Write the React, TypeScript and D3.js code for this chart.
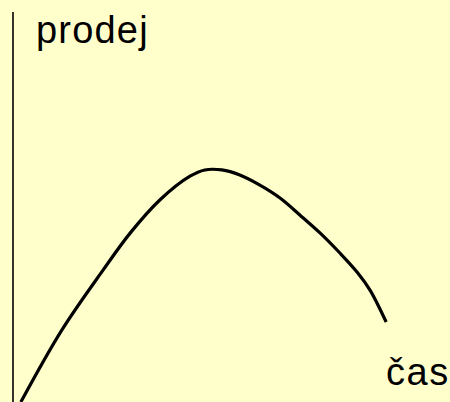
import React from "react";
import * as d3 from "d3";

const time: number[] = [1.8, 11.2, 20.6, 26.8, 33.6, 40.5, 43.9, 47.8, 51.9, 56.5, 61.1, 65.7, 70.3, 74.8, 78.9, 81.7, 85.4];
const sales: number[] = [0, 18.5, 33.8, 43.3, 51.8, 57.9, 59.5, 59.5, 58.2, 55.6, 52.3, 47.9, 43.3, 38.2, 33.1, 28.7, 20.5];
const yLabel = "prodej";
const xLabel = "čas";

const W = 450;
const H = 402;

export default function App() {
  const x = d3.scaleLinear().domain([0, 100]).range([13, W]);
  const y = d3.scaleLinear().domain([0, 100]).range([H, 12]);
  const pts: [number, number][] = time.map((t, i) => [t, sales[i]]);
  const line = d3
    .line<[number, number]>()
    .x((d) => x(d[0]))
    .y((d) => y(d[1]))
    .curve(d3.curveCatmullRom.alpha(0.5));

  return (
    <svg
      width={W}
      height={H}
      style={{ position: "fixed", left: 0, top: 0, display: "block" }}
    >
      <rect x={0} y={0} width={W} height={H} fill="#FFFFCC" />
      <line x1={x(0)} x2={x(0)} y1={y(100)} y2={y(0)} stroke="#000" strokeWidth={1.6} />
      <path d={line(pts) || ""} fill="none" stroke="#000" strokeWidth={3.2} strokeLinejoin="round" />
      <text x={36} y={43} fontFamily="'Liberation Sans', Arial, sans-serif" fontSize={38} letterSpacing={1.2} fill="#000">
        {yLabel}
      </text>
      <text x={386} y={385} fontFamily="'Liberation Sans', Arial, sans-serif" fontSize={38} letterSpacing={1.5} fill="#000">
        {xLabel}
      </text>
    </svg>
  );
}
